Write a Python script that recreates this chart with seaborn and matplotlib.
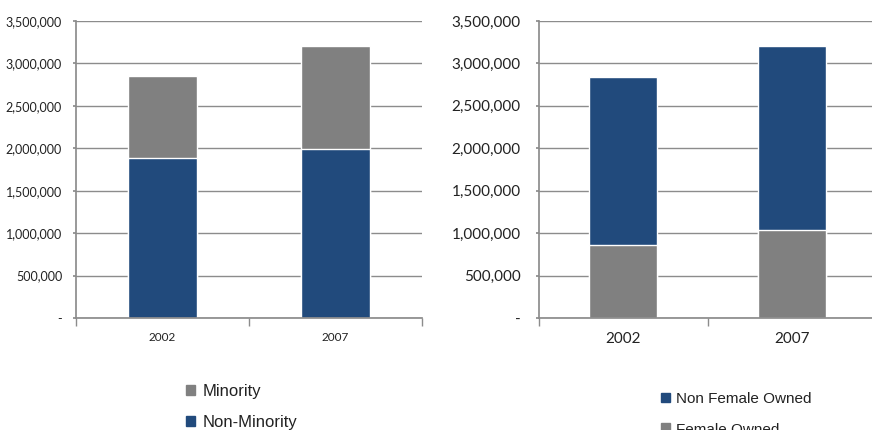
import matplotlib
matplotlib.use("Agg")
import matplotlib.pyplot as plt
import seaborn as sns
import pandas as pd
from matplotlib.patches import Patch
from matplotlib.ticker import FuncFormatter

years = ["2002", "2007"]
non_minority = [1889000, 1995000]
minority = [959000, 1214000]
female_owned = [864000, 1033000]
non_female_owned = [1976000, 2172000]
y_ticks = [0, 500000, 1000000, 1500000, 2000000, 2500000, 3000000, 3500000]

BLUE = "#214A7C"
GRAY = "#808080"
GRID = "#8C8C8C"

sns.set_theme(style="white")
plt.rcParams["font.family"] = ["DejaVu Sans"]

fig = plt.figure(figsize=(8.72, 4.30), dpi=100)
W, H = 872.0, 430.0

def fmt(v, pos):
    return "-" if v == 0 else f"{int(v):,}"

def style_axes(ax, font, size, xsize, pad):
    ax.set_ylim(0, 3500000)
    ax.set_xlim(-0.5, 1.5)
    ax.set_yticks(y_ticks)
    ax.yaxis.set_major_formatter(FuncFormatter(fmt))
    ax.grid(axis="y", color=GRID, linewidth=1.0)
    ax.set_axisbelow(True)
    for s in ["top", "right"]:
        ax.spines[s].set_visible(False)
    ax.spines["left"].set_color(GRID)
    ax.spines["bottom"].set_color(GRID)
    ax.tick_params(axis="y", which="major", length=2.5, color=GRID, direction="out", pad=pad, left=True)
    ax.tick_params(axis="x", which="major", length=0, pad=10)
    ax.set_xticks([-0.5, 0.5, 1.5], minor=True)
    ax.tick_params(axis="x", which="minor", length=6, color=GRID, direction="out", bottom=True)
    for lab in ax.get_yticklabels():
        lab.set_fontfamily(font)
        lab.set_fontsize(size)
        lab.set_color("#222222")
    for lab in ax.get_xticklabels():
        lab.set_fontfamily(font)
        lab.set_fontsize(xsize)
        lab.set_color("#222222")
    ax.set_xlabel("")
    ax.set_ylabel("")

# Left chart
ax1 = fig.add_axes([76 / W, (H - 318) / H, (422 - 76) / W, 297 / H])
df1 = pd.DataFrame({"year": years, "total": [a + b for a, b in zip(non_minority, minority)],
                    "base": non_minority})
sns.barplot(data=df1, x="year", y="total", color=GRAY, width=0.4, ax=ax1, saturation=1)
sns.barplot(data=df1, x="year", y="base", color=BLUE, width=0.4, ax=ax1, saturation=1)
style_axes(ax1, ["Lato", "DejaVu Sans"], 9, 8.5, 7.5)

# Right chart
ax2 = fig.add_axes([538.7 / W, (H - 318) / H, (876.7 - 538.7) / W, 297 / H])
df2 = pd.DataFrame({"year": years, "total": [a + b for a, b in zip(female_owned, non_female_owned)],
                    "base": female_owned})
sns.barplot(data=df2, x="year", y="total", color=BLUE, width=0.4, ax=ax2, saturation=1)
sns.barplot(data=df2, x="year", y="base", color=GRAY, width=0.4, ax=ax2, saturation=1)
style_axes(ax2, ["Lato", "DejaVu Sans"], 11, 11, 10.5)

# Legends
leg1 = fig.legend(handles=[Patch(color=GRAY, label="Minority"), Patch(color=BLUE, label="Non-Minority")],
                  loc="upper left", bbox_to_anchor=(171 / W, 1 - 369 / H), frameon=False,
                  handlelength=0.55, handleheight=0.55, handletextpad=0.45, labelspacing=0.95,
                  prop={"family": ["Liberation Sans", "DejaVu Sans"], "size": 12})
for t in leg1.get_texts():
    t.set_color("#222222")
leg2 = fig.legend(handles=[Patch(color=BLUE, label="Non Female Owned"), Patch(color=GRAY, label="Female Owned")],
                  loc="upper left", bbox_to_anchor=(647 / W, 1 - 378 / H), frameon=False,
                  handlelength=0.6, handleheight=0.6, handletextpad=0.4, labelspacing=1.1,
                  prop={"family": ["Liberation Sans", "DejaVu Sans"], "size": 11})
for t in leg2.get_texts():
    t.set_color("#222222")

fig.savefig("out.png", dpi=100)
